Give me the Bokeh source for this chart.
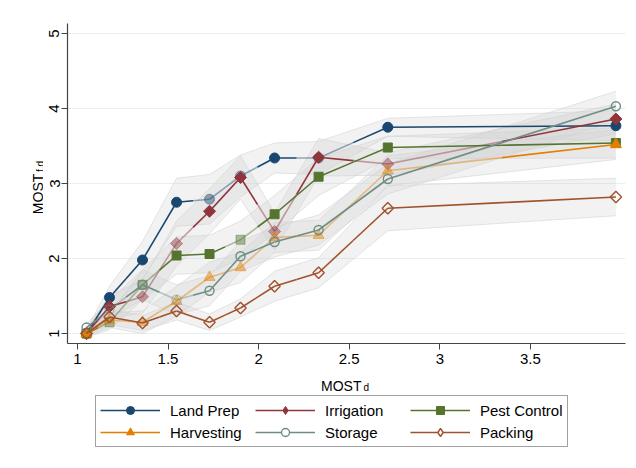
import math
from bokeh.plotting import figure
from bokeh.layouts import column, row
from bokeh.models import ColumnDataSource, FixedTicker, Legend, LegendItem, Label
from bokeh.embed import file_html
from bokeh.resources import INLINE

# ---------------- data ----------------
most_d = [1.05, 1.177, 1.359, 1.547, 1.729, 1.90, 2.088, 2.331, 2.713, 3.972]

land_prep = [1.00, 1.48, 1.98, 2.75, 2.79, 3.10, 3.34, 3.34, 3.75, 3.77]
irrigation = [1.00, 1.36, 1.49, 2.20, 2.63, 3.08, 2.36, 3.35, 3.26, 3.86]
pest_control = [1.00, 1.15, 1.65, 2.04, 2.06, 2.25, 2.59, 3.09, 3.48, 3.54]
harvesting = [1.00, 1.18, 1.15, 1.43, 1.75, 1.88, 2.28, 2.31, 3.17, 3.52]
storage = [1.08, 1.32, 1.65, 1.45, 1.57, 2.03, 2.22, 2.38, 3.06, 4.03]
packing = [1.00, 1.22, 1.14, 1.30, 1.15, 1.34, 1.63, 1.81, 2.67, 2.82]

# half widths of confidence bands
land_prep_ci = [0.05, 0.15, 0.25, 0.32, 0.33, 0.28, 0.20, 0.22, 0.12, 0.20]
irrigation_ci = [0.05, 0.15, 0.22, 0.30, 0.30, 0.29, 0.25, 0.25, 0.15, 0.20]
pest_control_ci = [0.05, 0.10, 0.20, 0.25, 0.25, 0.25, 0.25, 0.25, 0.15, 0.20]
harvesting_ci = [0.05, 0.10, 0.15, 0.20, 0.20, 0.20, 0.20, 0.20, 0.20, 0.20]
storage_ci = [0.05, 0.12, 0.20, 0.20, 0.20, 0.20, 0.20, 0.20, 0.20, 0.20]
packing_ci = [0.05, 0.10, 0.10, 0.12, 0.11, 0.12, 0.20, 0.20, 0.30, 0.25]

# 1 = full colour point, 0 = faded point
land_prep_sig = [1, 1, 1, 1, 0, 0, 1, 0, 1, 1]
irrigation_sig = [1, 1, 0, 0, 1, 1, 0, 1, 0, 1]
pest_control_sig = [1, 0, 0, 1, 1, 0, 1, 1, 1, 1]
harvesting_sig = [1, 0, 0, 0, 0, 0, 0, 0, 0, 1]
storage_sig = [1, 0, 1, 0, 1, 1, 1, 1, 1, 1]
packing_sig = [1, 1, 1, 1, 1, 1, 1, 1, 1, 1]

series_names = ["Land Prep", "Irrigation", "Pest Control", "Harvesting", "Storage", "Packing"]
x_ticks = [1, 1.5, 2, 2.5, 3, 3.5]
x_tick_labels = ["1", "1.5", "2", "2.5", "3", "3.5"]
y_ticks = [1, 2, 3, 4, 5]
y_tick_labels = ["1", "2", "3", "4", "5"]

# ---------------- styles ----------------
FONT = "Liberation Sans"
FADE = 0.45
styles = [
    dict(color="#1a476f", marker="circle", legend_marker="circle", size=10, angle=0.0, hollow=False),
    dict(color="#90353b", marker="square", legend_marker="diamond", size=8.5, angle=math.pi / 4, hollow=False),
    dict(color="#55752f", marker="square", legend_marker="square", size=9, angle=0.0, hollow=False),
    dict(color="#e37e00", marker="triangle", legend_marker="triangle", size=11, angle=0.0, hollow=False),
    dict(color="#6e8e84", marker="circle", legend_marker="circle", size=9, angle=0.0, hollow=True),
    dict(color="#a0522d", marker="square", legend_marker="diamond", size=8, angle=math.pi / 4, hollow=True),
]
values = [land_prep, irrigation, pest_control, harvesting, storage, packing]
cis = [land_prep_ci, irrigation_ci, pest_control_ci, harvesting_ci, storage_ci, packing_ci]
sigs = [land_prep_sig, irrigation_sig, pest_control_sig, harvesting_sig, storage_sig, packing_sig]


def blank(fig):
    fig.outline_line_color = None
    fig.xgrid.grid_line_color = None
    fig.ygrid.grid_line_color = None
    return fig


# ---------------- main plot ----------------
p = figure(width=593, height=375, output_backend="svg", toolbar_location=None,
           x_range=(0.945, 4.025), y_range=(0.867, 5.133),
           min_border_left=24, min_border_right=11, min_border_top=23, min_border_bottom=32,
           background_fill_color="white", border_fill_color="white")
p.outline_line_color = None

for ys, ci in zip(values, cis):
    lo = [y - c for y, c in zip(ys, ci)]
    hi = [y + c for y, c in zip(ys, ci)]
    p.varea(x=most_d, y1=lo, y2=hi, fill_color="#cfcfcf", fill_alpha=0.28)
    p.line(most_d, lo, line_color="#d4d4d4", line_alpha=0.6, line_width=1)
    p.line(most_d, hi, line_color="#d4d4d4", line_alpha=0.6, line_width=1)

for name, ys, sig, st in zip(series_names, values, sigs, styles):
    alphas = [1.0 if s else FADE for s in sig]
    x0, y0, x1, y1, sa = [], [], [], [], []
    for i in range(len(most_d) - 1):
        xm = (most_d[i] + most_d[i + 1]) / 2
        ym = (ys[i] + ys[i + 1]) / 2
        x0 += [most_d[i], xm]
        y0 += [ys[i], ym]
        x1 += [xm, most_d[i + 1]]
        y1 += [ym, ys[i + 1]]
        sa += [alphas[i], alphas[i + 1]]
    seg = ColumnDataSource(dict(x0=x0, y0=y0, x1=x1, y1=y1, a=sa))
    p.segment(x0="x0", y0="y0", x1="x1", y1="y1", source=seg, line_color=st["color"],
              line_alpha="a", line_width=1.6)
    src = ColumnDataSource(dict(x=most_d, y=ys, a=alphas))
    if st["hollow"]:
        p.scatter("x", "y", source=src, marker=st["marker"], size=st["size"], angle=st["angle"],
                  fill_color="white", fill_alpha=0.0, line_color=st["color"], line_alpha="a",
                  line_width=1.4)
    else:
        p.scatter("x", "y", source=src, marker=st["marker"], size=st["size"], angle=st["angle"],
                  fill_color=st["color"], fill_alpha="a", line_color=st["color"], line_alpha="a",
                  line_width=1)

for ax in (p.xaxis[0], p.yaxis[0]):
    ax.axis_line_color = "#444444"
    ax.axis_line_width = 1.2
    ax.major_tick_line_color = "#444444"
    ax.major_tick_out = 6
    ax.major_tick_in = 0
    ax.minor_tick_line_color = None
    ax.major_label_text_font = FONT
    ax.major_label_text_font_size = "15px"
    ax.major_label_text_color = "black"
    ax.major_label_standoff = 4
p.xaxis.ticker = FixedTicker(ticks=x_ticks)
p.xaxis.major_label_overrides = {float(t): l for t, l in zip(x_ticks, x_tick_labels)}
p.yaxis.ticker = FixedTicker(ticks=y_ticks)
p.yaxis.major_label_overrides = {float(t): l for t, l in zip(y_ticks, y_tick_labels)}
p.yaxis.major_label_orientation = "vertical"
p.yaxis.major_label_standoff = 2

p.xgrid.grid_line_color = None
p.ygrid.grid_line_color = "#e6eff1"
p.ygrid.grid_line_width = 1
p.ygrid.ticker = FixedTicker(ticks=y_ticks)

# ---------------- y-axis title strip ----------------
ylab = blank(figure(width=43, height=375, output_backend="svg", toolbar_location=None,
                    x_range=(0, 43), y_range=(0, 375), x_axis_type=None, y_axis_type=None,
                    min_border=0, border_fill_color="white", background_fill_color="white"))
ylab.add_layout(Label(x=37, y=199, text="MOST", angle=math.pi / 2, text_align="right",
                      text_baseline="alphabetic", text_font=FONT, text_font_size="14px",
                      text_color="black"))
ylab.add_layout(Label(x=40, y=201, text="f,d", angle=math.pi / 2, text_align="left",
                      text_baseline="alphabetic", text_font=FONT, text_font_size="10px",
                      text_color="black"))

# ---------------- bottom strip: x title + legend ----------------
bot = blank(figure(width=636, height=93, output_backend="svg", toolbar_location=None,
                   x_range=(0, 636), y_range=(0, 93), x_axis_type=None, y_axis_type=None,
                   min_border=0, border_fill_color="white", background_fill_color="white"))
bot.add_layout(Label(x=361, y=83, text="MOST", text_align="right", text_baseline="alphabetic",
                     text_font=FONT, text_font_size="14px", text_color="black"))
bot.add_layout(Label(x=363, y=81, text="d", text_align="left", text_baseline="alphabetic",
                     text_font=FONT, text_font_size="10px", text_color="black"))

nan = float("nan")
items_by_name = {}
for name, st in zip(series_names, styles):
    lr = bot.line([nan], [nan], line_color=st["color"], line_width=1.6)
    if st["hollow"]:
        mr = bot.scatter([nan], [nan], marker=st["legend_marker"], fill_color="white",
                         line_color=st["color"], line_width=1.4)
    else:
        mr = bot.scatter([nan], [nan], marker=st["legend_marker"],
                         fill_color=st["color"], line_color=st["color"])
    items_by_name[name] = LegendItem(label=name, renderers=[lr, mr])

# legend fills column by column: reorder so rows read as in the reference
order = [0, 3, 1, 4, 2, 5]
legend_items = [items_by_name[series_names[i]] for i in order]

legend = Legend(items=legend_items, ncols=3, location=(95, 21),
                glyph_width=60, glyph_height=20, label_height=20, label_width=83,
                label_standoff=10, spacing=2, padding=4, margin=0,
                label_text_font=FONT, label_text_font_size="15px", label_text_color="black",
                border_line_color="#444444", border_line_width=1,
                background_fill_color="white", background_fill_alpha=1.0)
bot.add_layout(legend, "center")

layout = column(row(ylab, p, spacing=0), bot, spacing=0)
open("out.html", "w").write(file_html(layout, INLINE))
